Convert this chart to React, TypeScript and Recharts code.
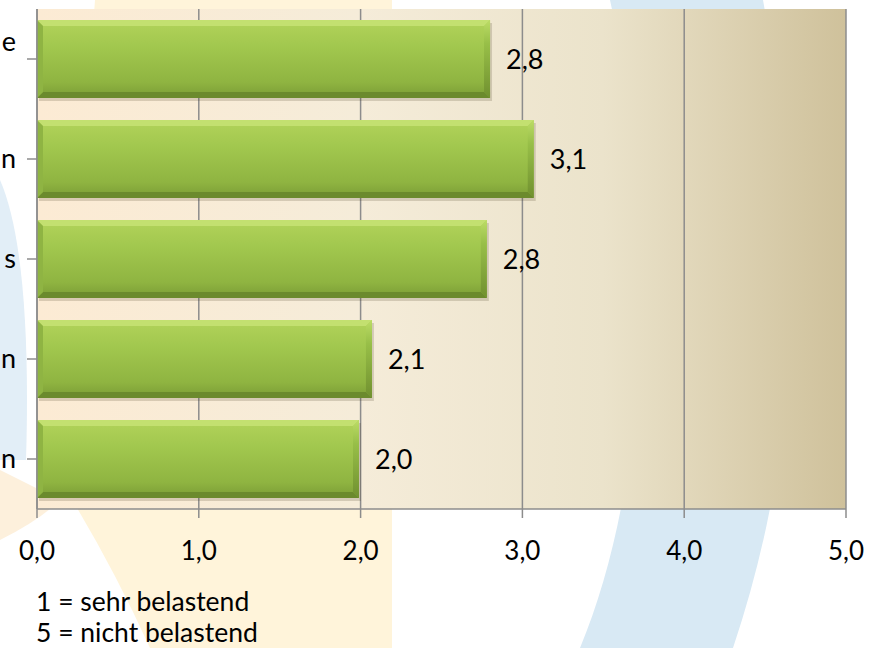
import React from "react"
import { BarChart, Bar, XAxis, YAxis, CartesianGrid, LabelList } from "recharts"

// visible parts of the category labels (the rest is cut off in the source picture)
const categories = ["e\n ", "n", "s", "n", "n"]
const scores = [2.8, 3.07, 2.78, 2.07, 1.99]
const xTicks = [0, 1, 2, 3, 4, 5]
const notes = ["1 = sehr belastend", "5 = nicht belastend"]

const data = categories.map((name, i) => ({ name, score: scores[i] }))

const FONT = "Lato, 'Open Sans', sans-serif"
const AXIS_GRAY = "#8c8c8c"

const fmt = (v: number) => v.toFixed(1).replace(".", ",")

function BevelBar(props: any) {
  const { x, y, width, height } = props
  if (!width || width <= 0) return null
  const b = 6
  return (
    <g>
      <rect x={x + 2} y={y + 3} width={width} height={height} fill="rgba(60,50,20,0.18)" />
      <rect x={x} y={y} width={width} height={height} fill="url(#barFill)" />
      {/* top bevel */}
      <polygon
        points={`${x},${y} ${x + width},${y} ${x + width - b},${y + b} ${x + b},${y + b}`}
        fill="#c3e070"
      />
      {/* bottom bevel */}
      <polygon
        points={`${x},${y + height} ${x + width},${y + height} ${x + width - b},${y + height - b} ${x + b},${y + height - b}`}
        fill="#6b8a2d"
      />
      {/* left bevel */}
      <polygon
        points={`${x},${y} ${x + b},${y + b} ${x + b},${y + height - b} ${x},${y + height}`}
        fill="#8fb443"
      />
      {/* right bevel */}
      <polygon
        points={`${x + width},${y} ${x + width},${y + height} ${x + width - b},${y + height - b} ${x + width - b},${y + b}`}
        fill="url(#bevelRight)"
      />
    </g>
  )
}

function CategoryTick(props: any) {
  const { x, y, payload } = props
  const lines = String(payload.value).split("\n")
  const lh = 35
  const start = -((lines.length - 1) * lh) / 2
  return (
    <text x={x} y={y} textAnchor="end" fontFamily={FONT} fontSize={27} fill="#000">
      {lines.map((l, i) => (
        <tspan key={i} x={x} y={y + start + i * lh} dy="0.35em">
          {l}
        </tspan>
      ))}
    </text>
  )
}

function Backdrop() {
  return (
    <svg width={881} height={648} style={{ position: "absolute", left: 0, top: 0 }}>
      <path d="M0,470 L0,540 Q40,520 60,500 Z" fill="#fdf0dc" />
      <path d="M95,0 L392,0 L392,648 L150,648 Q110,560 60,480 Z" fill="#fff4da" />
      <path
        d="M610,0 L763,0 C800,200 810,420 733,648 L580,648 C650,480 660,220 610,0 Z"
        fill="#d8e9f4"
      />
      <path d="M0,180 C22,230 30,330 26,460 L0,460 Z" fill="#e2eef7" />
    </svg>
  )
}

export default function App() {
  return (
    <div style={{ position: "fixed", left: 0, top: 0, width: 881, height: 648, background: "#fff", overflow: "hidden" }}>
      <Backdrop />
      <div style={{ position: "absolute", left: 0, top: 0 }}>
        <BarChart
          width={881}
          height={648}
          data={data}
          layout="vertical"
          margin={{ top: 9, right: 35, bottom: 79, left: 0 }}
          barSize={78}
        >
          <defs>
            <linearGradient id="plotBg" x1="0" y1="0" x2="1" y2="0">
              <stop offset="0" stopColor="#fcebd4" />
              <stop offset="0.4" stopColor="#f5ecd9" />
              <stop offset="0.7" stopColor="#ebe3cb" />
              <stop offset="1" stopColor="#cfc19b" />
            </linearGradient>
            <linearGradient id="barFill" x1="0" y1="0" x2="0" y2="1">
              <stop offset="0" stopColor="#b2d35a" />
              <stop offset="0.35" stopColor="#a1c74e" />
              <stop offset="0.8" stopColor="#8fb441" />
              <stop offset="1" stopColor="#7a9c35" />
            </linearGradient>
            <linearGradient id="bevelRight" x1="0" y1="0" x2="0" y2="1">
              <stop offset="0" stopColor="#bcdc66" />
              <stop offset="0.3" stopColor="#98bf48" />
              <stop offset="1" stopColor="#70902f" />
            </linearGradient>
          </defs>
          <CartesianGrid
            horizontal={false}
            stroke={AXIS_GRAY}
            strokeWidth={1.5}
            fill="url(#plotBg)"
            fillOpacity={1}
          />
          <XAxis
            type="number"
            domain={[0, 5]}
            ticks={xTicks}
            tickFormatter={fmt}
            height={60}
            stroke={AXIS_GRAY}
            strokeWidth={1.5}
            tickSize={9}
            tickMargin={24}
            tick={{ fontFamily: FONT, fontSize: 26, fill: "#000" }}
          />
          <YAxis
            type="category"
            dataKey="name"
            width={37}
            stroke={AXIS_GRAY}
            strokeWidth={1.5}
            tickSize={10}
            tickMargin={11}
            tick={<CategoryTick />}
            interval={0}
          />
          <Bar dataKey="score" shape={<BevelBar />} isAnimationActive={false}>
            <LabelList
              dataKey="score"
              position="right"
              offset={16}
              formatter={(v: any) => fmt(Number(v))}
              style={{ fontFamily: FONT, fontSize: 27, fill: "#000" }}
            />
          </Bar>
        </BarChart>
      </div>
      <div
        style={{
          position: "absolute",
          left: 36,
          top: 586,
          fontFamily: FONT,
          fontSize: 26.5,
          lineHeight: "31px",
          color: "#000",
        }}
      >
        {notes.map((n) => (
          <div key={n}>{n}</div>
        ))}
      </div>
    </div>
  )
}
